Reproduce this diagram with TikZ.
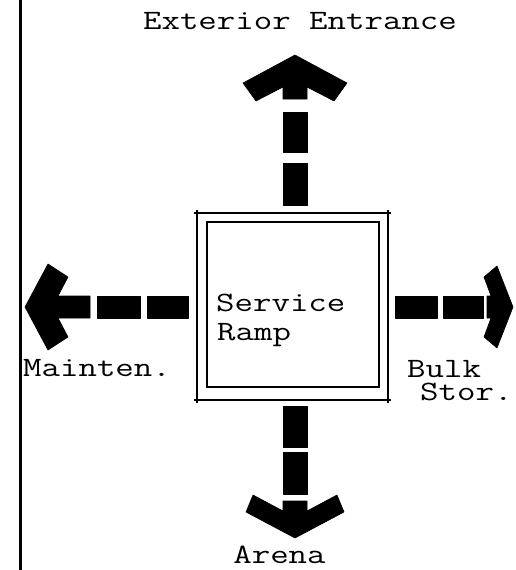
\documentclass[tikz,border=0pt]{standalone}
\usepackage{fontspec}
\setmonofont{Latin Modern Mono}[FakeStretch=1.28]
\tikzset{
  lbl/.style={font=\ttfamily\fontsize{28}{28}\selectfont, inner sep=0pt, anchor=base west},
  blk/.style={fill=black, draw=black, line width=0.6pt, line join=round},
  frame/.style={draw=black, line width=1.8pt},
}
\begin{document}
\begin{tikzpicture}[x=1pt,y=-1pt]
\useasboundingbox (0,0) rectangle (515,570);
\fill[white] (0,0) rectangle (515,570);
% left border line
\draw[line width=3pt] (20,0) -- (20,570);
% service ramp square
\draw[frame] (194,213) -- (391,213);
\draw[frame] (194,400) -- (391,400);
\draw[frame] (197,210) -- (197,403);
\draw[frame] (388,210) -- (388,403);
\draw[frame] (207,222) rectangle (379,387);
% labels
\node[lbl, anchor=base] (ext) at (300,29.3) {Exterior Entrance};
\node[lbl] (svc) at (216,311.7) {Service};
\node[lbl] (ramp) at (217,340) {Ramp};
\node[lbl] (maint) at (23,376.7) {Mainten.};
\node[lbl, align=left, font=\ttfamily\fontsize{28}{23}\selectfont] (bulk) at (407,400) {Bulk\\\hspace*{13pt}Stor.};
\node[lbl, anchor=base] (arena) at (279.5,563) {Arena};
% top arrow (up)
\fill[blk] (295,55) -- (347,83) -- (334,101) -- (307,87) -- (307,99) -- (283,99) -- (283,87) -- (256,101) -- (243,83) -- cycle;
\fill[blk] (283,112) rectangle (307,152);
\fill[blk] (283,163) rectangle (307,205);
% bottom arrow (down)
\fill[blk] (283,406) rectangle (307,447);
\fill[blk] (283,452) rectangle (307,494);
\fill[blk] (295,538) -- (246,512) -- (253,495) -- (283,511) -- (283,501) -- (307,501) -- (307,511) -- (337,495) -- (344,512) -- cycle;
% left arrow
\fill[blk] (25,307) -- (48,264) -- (68,277) -- (58,296) -- (90,296) -- (90,318) -- (58,318) -- (68,337) -- (48,350) -- cycle;
\fill[blk] (97,296) rectangle (140,318);
\fill[blk] (147,296) rectangle (188,318);
% right arrow
\fill[blk] (395,296) rectangle (437,318);
\fill[blk] (443,296) rectangle (483,318);
\fill[blk] (513,307) -- (497,266) -- (484,277) -- (491,296) -- (487,296) -- (487,318) -- (491,318) -- (484,337) -- (497,348) -- cycle;
\end{tikzpicture}
\end{document}
